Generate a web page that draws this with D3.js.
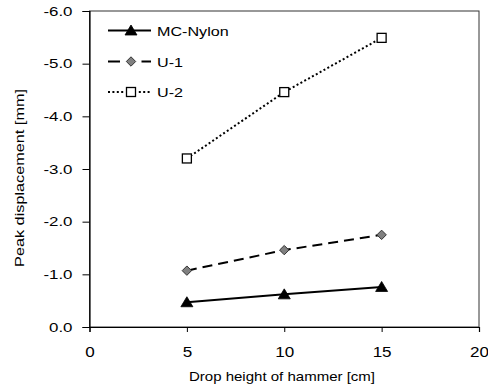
<!DOCTYPE html>
<html><head><meta charset="utf-8">
<script src="https://cdn.jsdelivr.net/npm/d3@7"></script>
<style>body{margin:0;background:#fff}svg{display:block}text{font-family:"Liberation Sans",Arial,sans-serif;fill:#000}</style>
</head><body><svg id="c" width="488" height="390"></svg>
<script>
const dropHeights = [5, 10, 15];
const mcNylon = [-0.47, -0.62, -0.76];
const u1 = [-1.07, -1.46, -1.75];
const u2 = [-3.2, -4.46, -5.49];
const seriesNames = ["MC-Nylon", "U-1", "U-2"];
const xTicks = [0, 5, 10, 15, 20];
const yTicks = [0, -1, -2, -3, -4, -5, -6];

const svg = d3.select("#c");
const L = 89.5, R = 479, T = 11, B = 327;
const x = d3.scaleLinear().domain([0, 20]).range([L, R]);
const y = d3.scaleLinear().domain([0, -6]).range([B, T]);

function stretch(sel, f) {
  sel.each(function () {
    const w = this.getComputedTextLength();
    d3.select(this).attr("textLength", w * f).attr("lengthAdjust", "spacingAndGlyphs");
  });
}

// plot box
svg.append("rect").attr("x", L).attr("y", T).attr("width", R - L).attr("height", B - T)
  .attr("fill", "none").attr("stroke", "#333").attr("stroke-width", 1);

const yAxis = svg.append("g").attr("transform", `translate(${L},0)`)
  .call(d3.axisLeft(y).tickValues(yTicks).tickSize(7).tickPadding(10).tickFormat(d => d.toFixed(1)));
const xAxis = svg.append("g").attr("transform", `translate(0,${B})`)
  .call(d3.axisBottom(x).tickValues(xTicks).tickSize(5).tickPadding(15).tickFormat(d => String(d)));
[yAxis, xAxis].forEach(a => {
  a.select(".domain").attr("stroke", "#000").attr("stroke-width", 1.2);
  a.selectAll(".tick line").attr("stroke", "#000");
  a.selectAll(".tick text").attr("font-family", "Liberation Sans, Arial, sans-serif").attr("fill", "#000");
});
yAxis.selectAll(".tick text").attr("font-size", 13).call(stretch, 1.3);
xAxis.selectAll(".tick text").attr("font-size", 14).call(stretch, 1.22);

svg.append("text").attr("x", 282).attr("y", 381).attr("text-anchor", "middle")
  .attr("font-size", 13).text("Drop height of hammer [cm]").call(stretch, 1.155);
svg.append("text").attr("transform", `translate(23.5,178) rotate(-90)`).attr("text-anchor", "middle")
  .attr("font-size", 13).text("Peak displacement [mm]").call(stretch, 1.25);

const series = [
  {name: seriesNames[0], values: mcNylon, dash: null, legDash: null, marker: "tri"},
  {name: seriesNames[1], values: u1, dash: "10,6", legDash: "12,21.5", marker: "dia"},
  {name: seriesNames[2], values: u2, dash: "2,2.4", legDash: "2,2.4", marker: "sq"}
];
const line = d3.line().x(d => x(d[0])).y(d => y(d[1]));

function marker(g, type, cx, cy) {
  if (type === "tri") {
    g.append("path").attr("d", "M0,-5.5L6,4.5L-6,4.5Z").attr("transform", `translate(${cx},${cy})`)
      .attr("fill", "#000").attr("stroke", "#000").attr("stroke-width", 0.8);
  } else if (type === "dia") {
    g.append("path").attr("d", "M0,-4.7L4.7,0L0,4.7L-4.7,0Z").attr("transform", `translate(${cx},${cy})`)
      .attr("fill", "#808080").attr("stroke", "#333").attr("stroke-width", 1);
  } else {
    g.append("rect").attr("x", cx - 4.5).attr("y", cy - 4.5).attr("width", 9).attr("height", 9)
      .attr("fill", "#fff").attr("stroke", "#000").attr("stroke-width", 1.3);
  }
}

series.forEach(s => {
  const pts = dropHeights.map((h, i) => [h, s.values[i]]);
  const p = svg.append("path").attr("d", line(pts)).attr("fill", "none").attr("stroke", "#000").attr("stroke-width", 2);
  if (s.dash) p.attr("stroke-dasharray", s.dash);
  const g = svg.append("g");
  pts.forEach(d => marker(g, s.marker, x(d[0]), y(d[1])));
});

// legend
const legY = [30.5, 61.5, 92];
series.forEach((s, i) => {
  const g = svg.append("g");
  const p = g.append("line").attr("x1", 108).attr("x2", 151).attr("y1", legY[i]).attr("y2", legY[i])
    .attr("stroke", "#000").attr("stroke-width", 2);
  if (s.legDash) p.attr("stroke-dasharray", s.legDash);
  if (s.marker === "sq") {
    g.append("rect").attr("x", 124).attr("y", legY[i] - 7).attr("width", 14).attr("height", 14).attr("fill", "#fff");
  }
  marker(g, s.marker, 131, legY[i]);
  g.append("text").attr("x", 157).attr("y", legY[i] + 5).attr("font-size", 13).text(s.name).call(stretch, 1.24);
});
</script></body></html>
